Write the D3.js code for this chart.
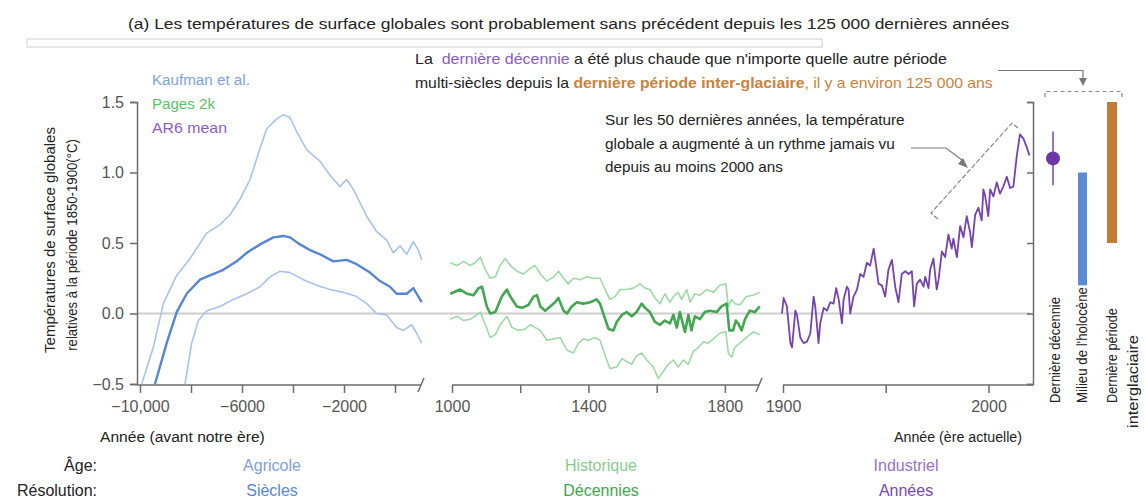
<!DOCTYPE html>
<html>
<head>
<meta charset="utf-8">
<script src="https://cdn.jsdelivr.net/npm/d3@7"></script>
<style>
  body { margin: 0; background: #fff; }
  text { font-family: "Liberation Sans Narrow", "Liberation Sans", Arial, sans-serif; }
</style>
</head>
<body>
<div id="chart"></div>
<script>
var svgWidth = 1145;
var svgHeight = 500;

// Kaufman et al. (Holocene), years before / after 0
var kaufMeanYears = [-9412,-8954,-8561,-8170,-7647,-7255,-6732,-6209,-5817,-5294,-4771,-4379,-4118,-3725,-3333,-2941,-2418,-1895,-1503,-980,-588,-196,65,458,719,850,1046];
var kaufMeanVals = [-0.5,-0.21,0.01,0.14,0.24,0.27,0.31,0.37,0.43,0.49,0.54,0.55,0.54,0.49,0.45,0.42,0.37,0.38,0.35,0.29,0.23,0.19,0.14,0.14,0.18,0.14,0.08];
var kaufHighYears = [-9935,-9477,-9085,-8562,-8039,-7386,-6863,-6471,-6078,-5686,-5294,-5033,-4640,-4379,-4118,-3856,-3464,-2941,-2549,-2157,-1895,-1634,-1111,-719,-327,-65,196,458,719,915,1046];
var kaufHighVals = [-0.5,-0.24,0.07,0.27,0.39,0.57,0.63,0.7,0.81,0.95,1.17,1.31,1.38,1.41,1.39,1.29,1.16,1.08,0.98,0.9,0.95,0.88,0.69,0.58,0.52,0.43,0.48,0.42,0.51,0.45,0.38];
var kaufLowYears = [-8235,-7974,-7712,-7386,-6863,-6340,-5817,-5294,-4902,-4510,-4118,-3595,-3072,-2549,-2026,-1503,-1111,-719,-327,65,327,654,850,1046];
var kaufLowVals = [-0.5,-0.21,-0.05,0.02,0.05,0.1,0.14,0.19,0.26,0.3,0.29,0.24,0.2,0.17,0.15,0.12,0.07,0.0,-0.01,-0.1,-0.12,-0.08,-0.14,-0.21];

// Pages 2k
var pagesMeanYears = [995,1024,1044,1063,1078,1088,1102,1112,1127,1146,1161,1171,1190,1205,1224,1239,1249,1259,1273,1288,1302,1312,1327,1337,1351,1366,1385,1405,1424,1434,1449,1459,1473,1483,1498,1512,1527,1541,1556,1566,1580,1595,1610,1624,1639,1649,1659,1668,1683,1693,1702,1712,1727,1741,1756,1776,1790,1805,1813,1824,1832,1839,1849,1859,1873,1888,1902];
var pagesMeanVals = [0.14,0.17,0.14,0.13,0.18,0.19,0.05,0.0,0.01,0.12,0.17,0.12,0.05,0.04,0.06,0.12,0.13,0.05,0.02,0.05,0.08,0.11,0.02,0.0,0.05,0.08,0.07,0.08,0.1,0.07,-0.04,-0.11,-0.12,-0.06,-0.01,0.01,-0.02,0.01,0.07,0.04,0.01,-0.06,-0.08,-0.05,-0.07,-0.01,-0.1,0.01,-0.13,-0.01,-0.12,-0.02,-0.04,0.01,0.02,0.01,0.05,0.07,-0.12,-0.12,-0.05,-0.07,-0.12,-0.04,0.02,0.01,0.05];
var pagesHighYears = [995,1015,1034,1054,1068,1083,1098,1112,1127,1141,1156,1171,1190,1210,1229,1244,1259,1278,1298,1312,1327,1341,1356,1376,1395,1415,1434,1449,1463,1478,1493,1512,1532,1551,1566,1580,1595,1610,1624,1639,1649,1663,1673,1688,1698,1712,1727,1746,1766,1785,1803,1810,1820,1829,1844,1863,1883,1902];
var pagesHighVals = [0.36,0.34,0.37,0.34,0.36,0.4,0.31,0.25,0.26,0.34,0.39,0.34,0.3,0.28,0.32,0.34,0.28,0.23,0.26,0.3,0.25,0.21,0.25,0.24,0.26,0.25,0.25,0.17,0.1,0.12,0.17,0.17,0.18,0.21,0.18,0.17,0.11,0.07,0.14,0.08,0.12,0.15,0.1,0.17,0.08,0.14,0.13,0.17,0.15,0.2,0.21,0.05,0.1,0.07,0.06,0.12,0.13,0.15];
var pagesLowYears = [995,1015,1034,1054,1073,1083,1098,1112,1127,1141,1161,1176,1195,1215,1229,1244,1259,1278,1298,1317,1337,1356,1371,1385,1400,1420,1434,1449,1463,1483,1498,1512,1527,1541,1556,1571,1590,1605,1620,1634,1649,1663,1678,1693,1707,1722,1737,1751,1766,1785,1803,1810,1820,1829,1844,1863,1883,1902];
var pagesLowVals = [-0.04,-0.02,-0.05,-0.04,-0.01,0.01,-0.08,-0.17,-0.15,-0.08,-0.02,-0.1,-0.12,-0.11,-0.08,-0.1,-0.12,-0.19,-0.18,-0.17,-0.26,-0.28,-0.21,-0.18,-0.19,-0.17,-0.19,-0.3,-0.39,-0.38,-0.32,-0.34,-0.36,-0.3,-0.28,-0.33,-0.38,-0.46,-0.41,-0.36,-0.33,-0.38,-0.33,-0.36,-0.27,-0.24,-0.2,-0.21,-0.18,-0.14,-0.13,-0.28,-0.31,-0.24,-0.21,-0.17,-0.13,-0.15];

// AR6 mean (instrumental)
var ar6Years = [1899.5,1900.3,1901.9,1903.6,1904.4,1906,1906.8,1908.4,1910,1911.7,1913.3,1914.9,1915.7,1917.3,1918.1,1919.8,1921.4,1923,1924.6,1925.9,1927.1,1928.7,1929.5,1931.1,1931.9,1932.7,1934.3,1936,1937.6,1939.2,1940.8,1942.4,1944.1,1944.9,1946.5,1948.1,1949.7,1951.3,1953,1954.6,1956.2,1957.8,1959.5,1961.1,1962.7,1963.8,1965.1,1966.7,1968.4,1969.2,1970.8,1971.6,1973.2,1974.8,1975.7,1977.3,1978.9,1980.5,1982.1,1982.9,1984.6,1986.2,1987.8,1989.4,1991,1991.9,1993.5,1995.1,1996.7,1997.5,1998.3,1999.9,2000.8,2002.4,2004,2005.6,2007.2,2008.9,2010.5,2012.1,2013.7,2015.3,2017,2018.6,2019.9];
var ar6Vals = [0.0,0.11,0.05,-0.21,-0.24,0.02,-0.01,-0.17,-0.21,-0.2,-0.14,0.12,0.05,-0.21,-0.07,0.04,0.02,0.08,0.07,0.18,0.1,-0.07,0.1,0.19,0.17,0.0,0.12,0.17,0.28,0.26,0.36,0.34,0.46,0.38,0.21,0.2,0.12,0.31,0.38,0.19,0.08,0.28,0.3,0.28,0.3,0.05,0.21,0.24,0.19,0.26,0.18,0.31,0.39,0.17,0.24,0.44,0.4,0.56,0.46,0.53,0.4,0.62,0.54,0.69,0.58,0.47,0.7,0.75,0.66,0.88,0.84,0.69,0.88,0.83,0.93,0.85,0.9,0.97,0.89,0.9,1.11,1.27,1.24,1.18,1.12];

// right-hand panel
var periodNames = ["Dernière décennie", "Milieu de l'holocène", "Dernière période interglaciaire"];
var decadeMean = 1.1;
var decadeRange = [0.91, 1.29];
var holoceneRange = [0.2, 1.0];
var interglacialRange = [0.5, 1.5];

var yTicks = [-0.5, 0, 0.5, 1.0, 1.5];
var kaufTicks = [-10000, -8000, -6000, -4000, -2000, 0];
var kaufLabels = [-10000, -6000, -2000];
var pagesTicks = [1000, 1200, 1400, 1600, 1800];
var pagesLabels = [1000, 1400, 1800];
var ar6Ticks = [1900, 1950, 2000];
var ar6Labels = [1900, 2000];

var ink = "#222";
var axisColor = "#6b6b6b";

var svg = d3.select("#chart")
  .append("svg")
  .attr("width", svgWidth)
  .attr("height", svgHeight);

// scales
var yScale = d3.scaleLinear().domain([-0.5, 1.5]).range([384, 102]);
var xKauf = d3.scaleLinear().domain([-10000, 1000]).range([140, 420.5]);
var xPages = d3.scaleLinear().domain([1000, 1900]).range([452, 759]);
var xAr6 = d3.scaleLinear().domain([1900, 2020]).range([783, 1029.6]);
var xPeriod = d3.scalePoint().domain(periodNames).range([1053, 1112]);

// helper: text squeezed/stretched to a measured width
function fitText(parent, x, y, parts, opts) {
  opts = opts || {};
  var g = parent.append("g");
  var t = g.append("text")
    .attr("text-anchor", opts.anchor || "start")
    .attr("font-size", opts.size || 15)
    .attr("fill", opts.color || ink);
  parts.forEach(function(p) {
    if (typeof p === "string") p = [p];
    t.append("tspan")
      .attr("fill", p[1] || null)
      .attr("font-weight", p[2] || null)
      .style("white-space", "pre")
      .text(p[0]);
  });
  var sx = 1;
  if (opts.width) sx = opts.width / t.node().getComputedTextLength();
  var tr = "translate(" + x + "," + y + ")";
  if (opts.rotate) tr += " rotate(" + opts.rotate + ")";
  tr += " scale(" + sx + ",1)";
  g.attr("transform", tr);
  return g;
}

// title
fitText(svg, 128, 29, ["(a) Les températures de surface globales sont probablement sans précédent depuis les 125 000 dernières années"], {size: 15, width: 882});

svg.append("rect")
  .attr("x", 27).attr("y", 39)
  .attr("width", 795).attr("height", 8)
  .attr("fill", "#fff")
  .attr("stroke", "#cfcfcf");

// zero line
svg.append("line")
  .attr("x1", 137).attr("x2", 1031)
  .attr("y1", yScale(0)).attr("y2", yScale(0))
  .attr("stroke", "#cdcdcd")
  .attr("stroke-width", 2);

// y axis (left)
var leftAxis = d3.axisLeft(yScale).tickValues(yTicks).tickSize(7).tickPadding(6)
  .tickFormat(function(d) { return d3.format(".1f")(d).replace("-", "\u2212"); });
var yAxisG = svg.append("g")
  .attr("transform", "translate(137,0)")
  .call(leftAxis);
yAxisG.select(".domain").attr("stroke", axisColor).attr("stroke-width", 1.5);
yAxisG.selectAll(".tick line").attr("stroke", axisColor).attr("stroke-width", 1.5);
yAxisG.selectAll(".tick text")
  .attr("font-size", 16)
  .attr("fill", "#555")
  .style("font-family", "Liberation Sans Narrow, Liberation Sans, Arial, sans-serif");

// right axis of the comparison panel
var rightAxis = d3.axisLeft(yScale).tickValues(yTicks).tickSize(6).tickFormat("");
var rAxisG = svg.append("g")
  .attr("transform", "translate(1033,0)")
  .call(rightAxis);
rAxisG.select(".domain").attr("stroke", axisColor).attr("stroke-width", 1.5);
rAxisG.selectAll(".tick line").attr("stroke", axisColor).attr("stroke-width", 1.5);

// x axes, one per segment
function drawXAxis(scale, ticks, labels, x0, x1, slash) {
  var axis = d3.axisBottom(scale).tickValues(ticks).tickSize(8).tickPadding(8)
    .tickFormat(function(d) {
      if (labels.indexOf(d) < 0) return "";
      var s = Math.abs(d) >= 10000 ? d3.format(",")(d) : String(d);
      return s.replace("-", "\u2212");
    });
  var g = svg.append("g")
    .attr("transform", "translate(0,385)")
    .call(axis);
  g.select(".domain").remove();
  g.append("line")
    .attr("x1", x0).attr("x2", x1)
    .attr("y1", 0).attr("y2", 0)
    .attr("stroke", axisColor).attr("stroke-width", 1.5);
  g.selectAll(".tick line").attr("stroke", axisColor).attr("stroke-width", 1.5);
  g.selectAll(".tick text")
    .attr("font-size", 16)
    .attr("fill", "#555")
    .style("font-family", "Liberation Sans Narrow, Liberation Sans, Arial, sans-serif");
  if (slash) {
    g.append("line")
      .attr("x1", x1 - 3).attr("x2", x1 + 3)
      .attr("y1", 7).attr("y2", -7)
      .attr("stroke", axisColor).attr("stroke-width", 1.5);
  }
}
drawXAxis(xKauf, kaufTicks, kaufLabels, 137, 421, true);
drawXAxis(xPages, pagesTicks, pagesLabels, 452, 759, true);
drawXAxis(xAr6, ar6Ticks, ar6Labels, 783, 1033, false);

// series
function series(years, vals) {
  return d3.zip(years, vals);
}
function drawLine(scale, data, color, width) {
  var line = d3.line()
    .x(function(d) { return scale(d[0]); })
    .y(function(d) { return yScale(d[1]); });
  svg.append("path")
    .datum(data)
    .attr("d", line)
    .attr("fill", "none")
    .attr("stroke", color)
    .attr("stroke-width", width)
    .attr("stroke-linejoin", "round");
}

drawLine(xKauf, series(kaufHighYears, kaufHighVals), "#a9c2ec", 1.6);
drawLine(xKauf, series(kaufLowYears, kaufLowVals), "#a9c2ec", 1.6);
drawLine(xKauf, series(kaufMeanYears, kaufMeanVals), "#5685d2", 2.4);

drawLine(xPages, series(pagesHighYears, pagesHighVals), "#9fd9a7", 1.6);
drawLine(xPages, series(pagesLowYears, pagesLowVals), "#9fd9a7", 1.6);
drawLine(xPages, series(pagesMeanYears, pagesMeanVals), "#43a651", 2.6);

drawLine(xAr6, series(ar6Years, ar6Vals), "#7443ad", 1.8);

// right panel marks
svg.append("line")
  .attr("x1", xPeriod(periodNames[0])).attr("x2", xPeriod(periodNames[0]))
  .attr("y1", yScale(decadeRange[0])).attr("y2", yScale(decadeRange[1]))
  .attr("stroke", "#9b74c9").attr("stroke-width", 2);
svg.append("circle")
  .attr("cx", xPeriod(periodNames[0]))
  .attr("cy", yScale(decadeMean))
  .attr("r", 7)
  .attr("fill", "#6e37a6");
svg.append("rect")
  .attr("x", xPeriod(periodNames[1]) - 4.5)
  .attr("width", 9)
  .attr("y", yScale(holoceneRange[1]))
  .attr("height", yScale(holoceneRange[0]) - yScale(holoceneRange[1]))
  .attr("fill", "#5b8bd2");
svg.append("rect")
  .attr("x", xPeriod(periodNames[2]) - 5)
  .attr("width", 10)
  .attr("y", yScale(interglacialRange[1]))
  .attr("height", yScale(interglacialRange[0]) - yScale(interglacialRange[1]))
  .attr("fill", "#c47b34");

// right panel labels (rotated)
fitText(svg, 1060, 403, [periodNames[0]], {rotate: -90, size: 15, width: 106});
fitText(svg, 1087, 403, [periodNames[1]], {rotate: -90, size: 15, width: 116});
fitText(svg, 1117, 403, ["Dernière période"], {rotate: -90, size: 15, width: 95});
fitText(svg, 1138, 428, ["interglaciaire"], {rotate: -90, size: 15, width: 93});

// legend
fitText(svg, 152, 85, ["Kaufman et al."], {size: 15, color: "#7ea2e0", width: 98});
fitText(svg, 152, 109, ["Pages 2k"], {size: 15, color: "#5cbf6a", width: 63});
fitText(svg, 152, 133, ["AR6 mean"], {size: 15, color: "#8c5bbf", width: 75});

// y axis title
fitText(svg, 55, 240, ["Températures de surface globales"], {rotate: -90, anchor: "middle", size: 14, width: 226});
fitText(svg, 77, 245, ["relatives à la période 1850-1900(°C)"], {rotate: -90, anchor: "middle", size: 14, width: 212});

// x axis titles
fitText(svg, 100, 442, ["Année (avant notre ère)"], {size: 15, width: 165});
fitText(svg, 1022, 442, ["Année (ère actuelle)"], {size: 15, anchor: "end", width: 128});

// ages / resolution
fitText(svg, 97, 471, ["Âge:"], {size: 16, anchor: "end"});
fitText(svg, 97, 496, ["Résolution:"], {size: 16, anchor: "end"});
fitText(svg, 272, 471, ["Agricole"], {size: 16, anchor: "middle", color: "#7f9fe0"});
fitText(svg, 272, 496, ["Siècles"], {size: 16, anchor: "middle", color: "#5b86d2"});
fitText(svg, 601, 471, ["Historique"], {size: 16, anchor: "middle", color: "#86cd8f"});
fitText(svg, 601, 496, ["Décennies"], {size: 16, anchor: "middle", color: "#3fa54e"});
fitText(svg, 906, 471, ["Industriel"], {size: 16, anchor: "middle", color: "#9a6fcb"});
fitText(svg, 906, 496, ["Années"], {size: 16, anchor: "middle", color: "#7a48b3"});

// annotation 1 (top)
var purple = "#8c5bbf", orange = "#c8823c";
fitText(svg, 415, 64, ["La  ", ["dernière décennie", purple], " a été plus chaude que n'importe quelle autre période"], {size: 15, width: 532});
fitText(svg, 415, 88, ["multi-siècles depuis la ", ["dernière période inter-glaciaire", orange, "bold"], [", il y a environ 125 000 ans", orange]], {size: 15, width: 578});

// connector to the comparison panel
svg.append("path")
  .attr("d", "M998,70.5 H1083 V79")
  .attr("fill", "none").attr("stroke", "#777").attr("stroke-width", 1.2);
svg.append("path")
  .attr("d", "M1079,78 L1087,78 L1083,86 Z")
  .attr("fill", "#777");
svg.append("path")
  .attr("d", "M1045,97 V91.5 H1122 V97")
  .attr("fill", "none").attr("stroke", "#888").attr("stroke-width", 1.2)
  .attr("stroke-dasharray", "4,3");

// annotation 2
fitText(svg, 605, 125, ["Sur les 50 dernières années, la température"], {size: 15, width: 300});
fitText(svg, 605, 149, ["globale a augmenté à un rythme jamais vu"], {size: 15, width: 290});
fitText(svg, 605, 172, ["depuis au moins 2000 ans"], {size: 15, width: 178});

svg.append("path")
  .attr("d", "M911,148 L946,148 L962,160")
  .attr("fill", "none").attr("stroke", "#777").attr("stroke-width", 1.2);
svg.append("path")
  .attr("d", "M958,164 L968,168 L963,158 Z")
  .attr("fill", "#777");

// bracket along the recent warming
svg.append("path")
  .attr("d", "M938,219 L931,213 L1012,123 L1018,128")
  .attr("fill", "none").attr("stroke", "#888").attr("stroke-width", 1.2)
  .attr("stroke-dasharray", "5,2");
</script>
</body>
</html>
